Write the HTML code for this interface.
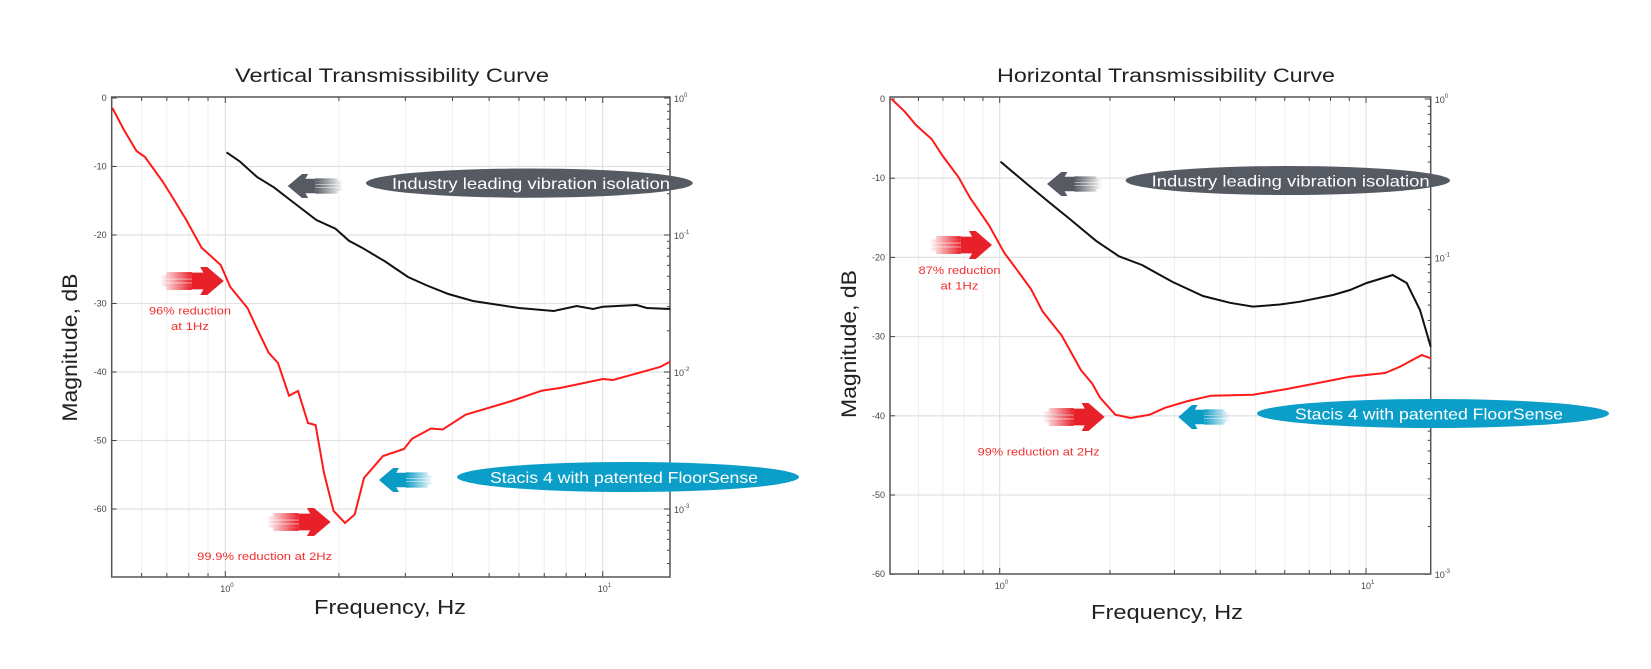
<!DOCTYPE html>
<html><head><meta charset="utf-8"><style>
html,body{margin:0;padding:0;background:#fff;}
svg{display:block;font-family:"Liberation Sans",Arial,sans-serif;}
</style></head><body>
<svg id="s" width="1651" height="669" viewBox="0 0 1651 669" xmlns="http://www.w3.org/2000/svg">
<defs id="defs"></defs>
<g id="grid"></g>
<g id="ax"></g>

<polyline fill="none" stroke="#111" stroke-width="2" points="226.5,152.3 240,161.6 257,177 274,187.4 289.6,199.5 316.4,220 335.5,228.7 349,240.8 362,247.7 385,261.4 408,277 427,285.5 448.4,294 473,301 519,308 553.7,311 576.7,306 593,309 603,306.7 636.7,305 646.7,308 670,309"/>
<polyline fill="none" stroke="#ff1a1a" stroke-width="2" points="112.4,108 124,130 136.5,151 145,157 163,182 174.8,201 186.3,220 201.6,247.7 220.7,265 230.3,287 247.5,308 257,328.6 268.6,352.7 278,363 289,395.7 298,391 308,423 315.6,425 324,473 333.6,511 345,523 354.7,514.5 364,478 383,456 404,449 412,438.8 431,428.5 442.7,429.5 465.7,414.7 511.6,401 542,390.6 560,388 603,379 613,380 643,371.7 660,367 670,361.7"/>

<polyline fill="none" stroke="#111" stroke-width="2" points="1000.5,161.6 1027,184 1050,203 1069,218.4 1096,240.8 1119,256.3 1142,265 1172.7,282 1203,296 1230,302.8 1253,306.6 1280,304.5 1300,301.7 1333,295 1350,290 1366.7,283 1383,278 1392.7,275 1406.7,283 1420,310 1430.7,346.7"/>
<polyline fill="none" stroke="#ff1a1a" stroke-width="2" points="891.4,98.9 904.8,111.7 916.3,125.4 931.6,139 943,156.4 958.4,177 970,197.7 989,225.3 1004.3,252.8 1019.6,273.5 1031,289 1042.6,311.4 1061.7,335.5 1080.9,370 1092.3,383.7 1100,397.5 1115.3,414.7 1130.6,418 1149.7,414.7 1165,407.8 1188,401 1211,395.7 1253,394.7 1287.5,388.9 1333.4,380 1350,376.7 1385,373 1400,366.7 1421.7,355 1430.7,358.3"/>

<g id="ann"></g>

<text x="392" y="82" font-size="19" text-anchor="middle" fill="#222" textLength="314" lengthAdjust="spacingAndGlyphs">Vertical Transmissibility Curve</text>
<text x="1166" y="82" font-size="19" text-anchor="middle" fill="#222" textLength="338" lengthAdjust="spacingAndGlyphs">Horizontal Transmissibility Curve</text>
<text x="390" y="614" font-size="20" text-anchor="middle" fill="#222" textLength="152" lengthAdjust="spacingAndGlyphs">Frequency, Hz</text>
<text x="1167" y="619" font-size="20" text-anchor="middle" fill="#222" textLength="152" lengthAdjust="spacingAndGlyphs">Frequency, Hz</text>
<text transform="translate(77,347.6) rotate(-90)" font-size="21" text-anchor="middle" fill="#222" textLength="148" lengthAdjust="spacingAndGlyphs">Magnitude, dB</text>
<text transform="translate(856,344) rotate(-90)" font-size="21" text-anchor="middle" fill="#222" textLength="148" lengthAdjust="spacingAndGlyphs">Magnitude, dB</text>
</svg>
<script>
var NS="http://www.w3.org/2000/svg";
function mk(t,a,txt){var e=document.createElementNS(NS,t);for(var k in a)e.setAttribute(k,a[k]);if(txt!=null)e.textContent=txt;return e;}
function el(p,t,a,txt){var e=mk(t,a,txt);document.getElementById(p).appendChild(e);return e;}
function plot(o){
 var L=o.L,R=o.R,T=o.T,B=o.B;
 function X(f){return o.x0+Math.log10(f)*o.dec;}
 for(var d=-1;d<=1;d++)for(var m=1;m<10;m++){var f=m*Math.pow(10,d);var x=X(f);if(x>L+1&&x<R-1){
   el("grid","line",{x1:x,x2:x,y1:T,y2:B,stroke:m==1?"#dcdcdc":"#efefef","stroke-width":1});
   el("ax","line",{x1:x,x2:x,y1:B,y2:B-(m==1?6:4),stroke:"#444"});
   el("ax","line",{x1:x,x2:x,y1:T,y2:T+(m==1?6:4),stroke:"#444"});}}
 for(var db=0;db>=o.dmin;db-=10){var y=o.y0-db*o.k;
   if(db!=0&&y<B-1)el("grid","line",{x1:L,x2:R,y1:y,y2:y,stroke:"#e2e2e2","stroke-width":1.3});
   el("ax","line",{x1:L,x2:L+5,y1:y,y2:y,stroke:"#444"});
   el("ax","text",{x:L-5,y:y+3,"font-size":9,"text-anchor":"end",fill:"#444"},""+db);}
 for(var d=0;d>-4;d--){var yd=o.y0-(20*d)*o.k;
   el("ax","line",{x1:R,x2:R-6,y1:yd,y2:yd,stroke:"#444"});
   el("ax","text",{x:R+4,y:yd+4,"font-size":9,fill:"#444"},"10");
   el("ax","text",{x:R+14,y:yd-1,"font-size":6,fill:"#444"},d==0?"0":("-"+(-d)));
   for(var m=2;m<10;m++){var yy=o.y0-(20*(d-1)+20*Math.log10(m))*o.k;
     if(yy>T&&yy<B)el("ax","line",{x1:R,x2:R-3,y1:yy,y2:yy,stroke:"#444"});}}
 el("ax","rect",{x:L,y:T,width:R-L,height:B-T,fill:"none",stroke:"#555","stroke-width":1.5});
 [0,1].forEach(function(d){var x=X(Math.pow(10,d));el("ax","text",{x:x-5,y:o.B+15,"font-size":9,fill:"#444"},"10");el("ax","text",{x:x+5,y:o.B+10,"font-size":6,fill:"#444"},""+d);});
}
plot({L:111.7,R:670,T:97,B:577,x0:225.3,dec:377.4,y0:98,k:6.85,dmin:-60});
plot({L:890,R:1430.7,T:97,B:574,x0:999.7,dec:366.3,y0:99,k:7.92,dmin:-60});
var gid=0;
function grad(xa,xb,col){var id="g"+(gid++);var g=mk("linearGradient",{id:id,gradientUnits:"userSpaceOnUse",x1:xa,x2:xb,y1:0,y2:0});
 g.appendChild(mk("stop",{offset:0,"stop-color":col,"stop-opacity":0}));g.appendChild(mk("stop",{offset:1,"stop-color":col,"stop-opacity":1}));
 document.getElementById("defs").appendChild(g);return "url(#"+id+")";}
function arrow(x0,x1,cy,h,col,right){
 var w=x1-x0;var s=right?1:-1;var tip=right?x1:x0;var tail=right?x0:x1;
 var hb=tip-s*w*0.32; // head base
 var bb=tip-s*w*0.50; // body start
 var g=grad(tail,bb,col);
 var streaks=[[-0.26,0.1],[-0.14,0.0],[0,0.0],[0.14,0.0],[0.26,0.1]];
 streaks.forEach(function(st){var xs=tail+s*w*st[1];var yy=cy+st[0]*h;
   var xa=Math.min(xs,bb),xb=Math.max(xs,bb);
   el("ann","rect",{x:xa,y:yy-h*0.06,width:xb-xa,height:h*0.12,fill:g});});
 var body=[[bb,cy-h*0.3],[hb,cy-h*0.3],[hb-s*w*0.05,cy-h/2],[hb+s*w*0.06,cy-h/2],[tip,cy],[hb+s*w*0.06,cy+h/2],[hb-s*w*0.05,cy+h/2],[hb,cy+h*0.3],[bb,cy+h*0.3]];
 el("ann","polygon",{points:body.map(function(p){return p.join(",")}).join(" "),fill:col});
}
function pill(x0,x1,y0,y1,col,txt,tx,tl){
 el("ann","ellipse",{cx:(x0+x1)/2,cy:(y0+y1)/2,rx:(x1-x0)/2,ry:(y1-y0)/2,fill:col});
 el("ann","text",{x:tx,y:(y0+y1)/2+6,"font-size":16,fill:"#fff",textLength:tl,lengthAdjust:"spacingAndGlyphs"},txt);}
function rt(x,y,t,w){el("ann","text",{x:x,y:y,"font-size":11,fill:"#f03030","text-anchor":"middle",textLength:w,lengthAdjust:"spacingAndGlyphs"},t);}
arrow(287.7,343,186,24,"#555a63",false);
pill(366,692.7,168.5,197.7,"#555a63","Industry leading vibration isolation",392,278);
arrow(160,223.8,281,28,"#e8202a",true);
rt(190,314.5,"96% reduction",82);rt(190,330,"at 1Hz",38);
arrow(379,433,480,24,"#0b9cc6",false);
pill(457,799,462,492,"#0a9ec8","Stacis 4 with patented FloorSense",490,268);
arrow(266.7,330.6,522,28,"#e8202a",true);
rt(264.7,560,"99.9% reduction at 2Hz",135);
arrow(1047,1102,184,24,"#555a63",false);
pill(1125.6,1450,166,195,"#555a63","Industry leading vibration isolation",1151.6,278);
arrow(929.7,992,245,28,"#e8202a",true);
rt(959.5,274,"87% reduction",82);rt(959.5,289.5,"at 1Hz",38);
arrow(1178.4,1230,417,24,"#0b9cc6",false);
pill(1257,1609,399,428,"#0a9ec8","Stacis 4 with patented FloorSense",1295,268);
arrow(1042.6,1104.6,417,28,"#e8202a",true);
rt(1038.7,455.5,"99% reduction at 2Hz",122);
</script>
</body></html>
